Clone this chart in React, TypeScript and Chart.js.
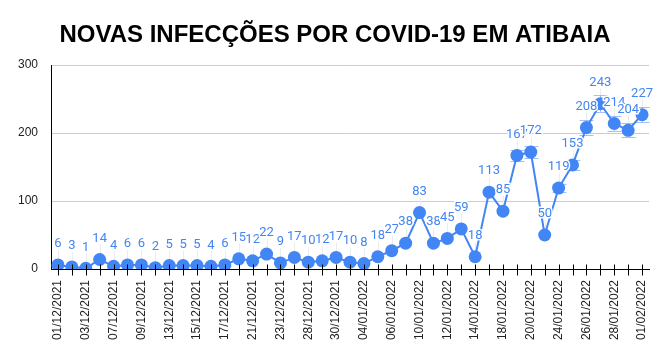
import React, { useEffect, useRef } from "react";
import { Chart, registerables } from "chart.js";

Chart.register(...registerables);

const TITLE = "NOVAS INFECÇÕES POR COVID-19 EM ATIBAIA";

const dates = [
  "01/12/2021", "02/12/2021", "03/12/2021", "06/12/2021", "07/12/2021", "08/12/2021",
  "09/12/2021", "10/12/2021", "13/12/2021", "14/12/2021", "15/12/2021", "16/12/2021",
  "17/12/2021", "20/12/2021", "21/12/2021", "22/12/2021", "23/12/2021", "27/12/2021",
  "28/12/2021", "29/12/2021", "30/12/2021", "03/01/2022", "04/01/2022", "05/01/2022",
  "06/01/2022", "07/01/2022", "10/01/2022", "11/01/2022", "12/01/2022", "13/01/2022",
  "14/01/2022", "17/01/2022", "18/01/2022", "19/01/2022", "20/01/2022", "21/01/2022",
  "24/01/2022", "25/01/2022", "26/01/2022", "27/01/2022", "28/01/2022", "31/01/2022",
  "01/02/2022",
];

const newCases = [
  6, 3, 1, 14, 4, 6, 6, 2, 5, 5, 5, 4, 6, 15, 12, 22, 9, 17, 10, 12, 17, 10, 8,
  18, 27, 38, 83, 38, 45, 59, 18, 113, 85, 167, 172, 50, 119, 153, 208, 243, 214,
  204, 227,
];

const yTicks = [0, 100, 200, 300];
const errorPct = 0.05;

const BLUE = "#4285f4";

const overlayPlugin = {
  id: "overlay",
  beforeDatasetsDraw(chart: any) {
    const ctx = chart.ctx;
    const meta = chart.getDatasetMeta(0);
    const ys = chart.scales.y;
    ctx.save();
    // faint leader lines
    ctx.strokeStyle = "#ececec";
    ctx.lineWidth = 1;
    meta.data.forEach((pt: any) => {
      const x = Math.round(pt.x) + 0.5;
      ctx.beginPath();
      ctx.moveTo(x, pt.y);
      ctx.lineTo(x, pt.y - 15);
      ctx.stroke();
    });
    // error bars (under the points)
    ctx.strokeStyle = "rgba(140,178,246,0.8)";
    meta.data.forEach((pt: any, i: number) => {
      const v = newCases[i];
      const top = ys.getPixelForValue(v * (1 + errorPct));
      const bot = ys.getPixelForValue(v * (1 - errorPct));
      if (bot - top < 8) return;
      const x = Math.round(pt.x) + 0.5;
      ctx.beginPath();
      ctx.moveTo(x, top);
      ctx.lineTo(x, bot);
      ctx.moveTo(x - 7, Math.round(top) + 0.5);
      ctx.lineTo(x + 7, Math.round(top) + 0.5);
      ctx.moveTo(x - 7, Math.round(bot) + 0.5);
      ctx.lineTo(x + 7, Math.round(bot) + 0.5);
      ctx.stroke();
    });
    ctx.restore();
  },
  afterDatasetsDraw(chart: any) {
    const ctx = chart.ctx;
    const meta = chart.getDatasetMeta(0);
    const ys = chart.scales.y;
    const xs = chart.scales.x;
    ctx.save();
    // x tick marks crossing the axis
    const axisY = Math.round(ys.bottom) + 0.5;
    ctx.strokeStyle = "#000";
    ctx.lineWidth = 1;
    for (let i = 0; i < dates.length; i++) {
      const x = Math.round(xs.getPixelForValue(i)) + 0.5;
      ctx.beginPath();
      ctx.moveTo(x, axisY - 5);
      ctx.lineTo(x, axisY + 6);
      ctx.stroke();
    }
    // data labels
    ctx.font = "13px Roboto";
    ctx.textAlign = "center";
    ctx.textBaseline = "middle";
    ctx.lineJoin = "round";
    meta.data.forEach((pt: any, i: number) => {
      const t = String(newCases[i]);
      const y = pt.y - 21;
      ctx.strokeStyle = "#fff";
      ctx.lineWidth = 3;
      ctx.strokeText(t, pt.x, y);
      ctx.fillStyle = BLUE;
      ctx.fillText(t, pt.x, y);
    });
    ctx.restore();
  },
  afterDraw(chart: any) {
    const ctx = chart.ctx;
    ctx.save();
    ctx.font = "bold 24px 'Liberation Sans', Arial";
    ctx.fillStyle = "#000";
    ctx.textAlign = "center";
    ctx.textBaseline = "alphabetic";
    ctx.fillText(TITLE, 335, 42);
    ctx.restore();
  },
};

export default function App() {
  const ref = useRef<HTMLCanvasElement | null>(null);
  useEffect(() => {
    document.body.style.margin = "0";
    const canvas = ref.current;
    if (!canvas) return;
    const chart = new Chart(canvas, {
      type: "line",
      data: {
        labels: dates,
        datasets: [
          {
            data: newCases,
            borderColor: BLUE,
            backgroundColor: BLUE,
            borderWidth: 2,
            pointRadius: 6.5,
            pointBorderWidth: 0,
            pointBackgroundColor: BLUE,
            tension: 0,
          },
        ],
      },
      options: {
        responsive: false,
        animation: false,
        layout: { padding: { left: 0, right: 19, top: 65, bottom: 0 } },
        plugins: {
          legend: { display: false },
          tooltip: { enabled: false },
          title: { display: false, text: TITLE },
        },
        scales: {
          x: {
            type: "category",
            offset: true,
            grid: { display: false, drawTicks: false },
            border: { display: true, color: "#000", width: 1 },
            ticks: {
              autoSkip: false,
              minRotation: 90,
              maxRotation: 90,
              padding: 11,
              color: "#222",
              font: { family: "Liberation Sans, Arial", size: 12 },
              callback: (_v: any, i: number) => (i % 2 === 0 ? dates[i] : ""),
            },
            afterFit: (s: any) => {
              s.height = 93;
            },
          },
          y: {
            min: 0,
            max: 300,
            afterBuildTicks: (s: any) => {
              s.ticks = yTicks.map((v) => ({ value: v }));
            },
            grid: { color: "#cccccc", drawTicks: false },
            border: { display: true, color: "#000", width: 1 },
            ticks: {
              padding: 13,
              color: "#222",
              font: { family: "Liberation Sans, Arial", size: 12 },
            },
            afterFit: (s: any) => {
              s.width = 51;
            },
          },
        },
      },
      plugins: [overlayPlugin],
    } as any);
    return () => chart.destroy();
  }, []);
  return (
    <div style={{ width: 668, height: 362 }}>
      <canvas ref={ref} width={668} height={362} style={{ display: "block" }} />
    </div>
  );
}
